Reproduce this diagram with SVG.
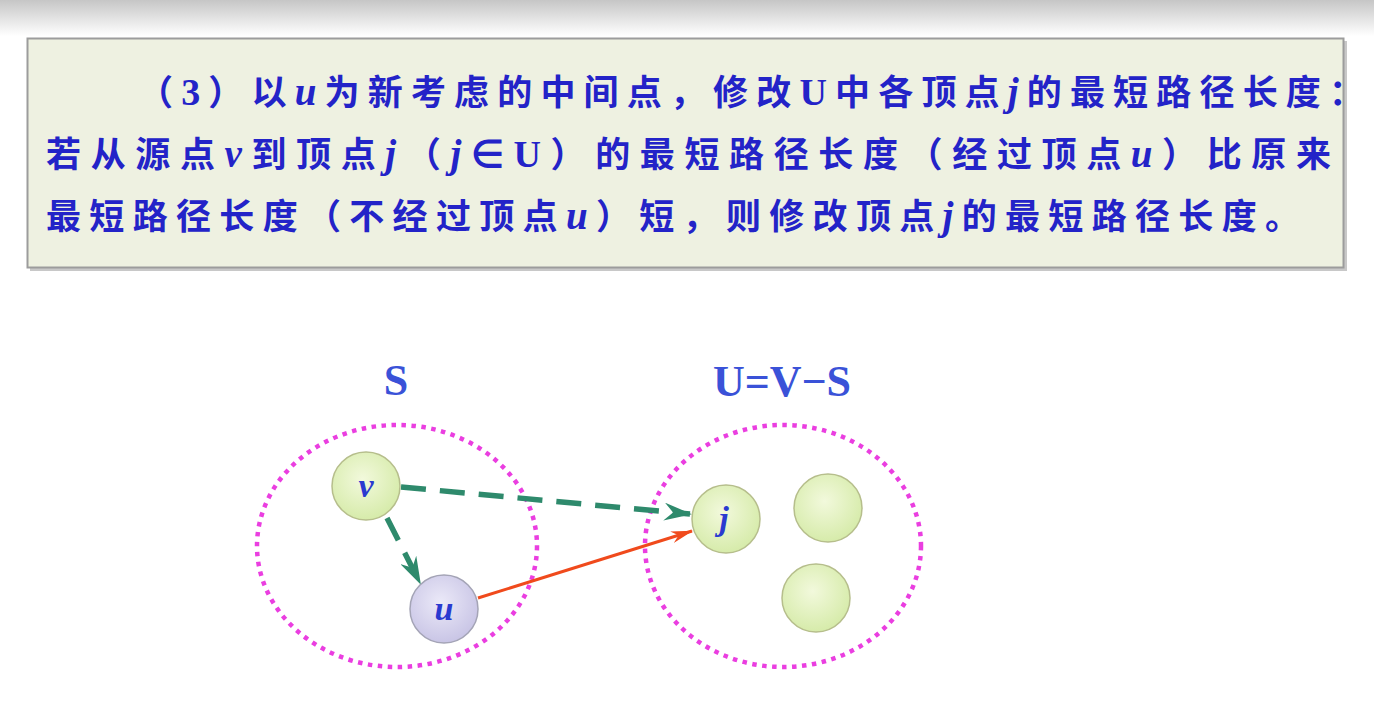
<svg xmlns="http://www.w3.org/2000/svg" width="1374" height="707" viewBox="0 0 1374 707">
<defs>
<linearGradient id="topband" x1="0" y1="0" x2="0" y2="1">
<stop offset="0" stop-color="#c6c6c6"/>
<stop offset="1" stop-color="#ffffff"/>
</linearGradient>
<radialGradient id="gGreen" cx="0.45" cy="0.4" r="0.65">
<stop offset="0" stop-color="#f2f9dc"/>
<stop offset="1" stop-color="#d4eaa6"/>
</radialGradient>
<radialGradient id="gPurple" cx="0.45" cy="0.4" r="0.65">
<stop offset="0" stop-color="#ebe9f8"/>
<stop offset="1" stop-color="#c6c2e4"/>
</radialGradient>
<marker id="arrGreen" markerUnits="userSpaceOnUse" viewBox="0 0 28 18" markerWidth="28" markerHeight="18" refX="26" refY="9" orient="auto">
<path d="M0,0 L28,9 L0,18 L9,9 z" fill="#2e8a6c"/>
</marker>
<marker id="arrRed" markerUnits="userSpaceOnUse" viewBox="0 0 22 12" markerWidth="22" markerHeight="12" refX="21" refY="6" orient="auto">
<path d="M0,0 L22,6 L0,12 L7,6 z" fill="#f04a1c"/>
</marker>
</defs>
<style>
.cn{font-family:"Noto Sans CJK SC","Noto Sans",sans-serif;font-weight:bold;font-size:35px;fill:#2323c8}
.lt{font-family:"Liberation Serif","Noto Serif",serif;font-weight:bold;font-size:38px}
.it{font-family:"Liberation Serif",serif;font-style:italic;font-weight:bold;font-size:39px}
.set{fill:none;stroke:#ea3ee0;stroke-width:4.5;stroke-dasharray:4.5 5.5}
.title{font-family:"Liberation Serif",serif;font-weight:bold;font-size:44px;fill:#3a52d8;text-anchor:middle}
.nodeG{fill:url(#gGreen);stroke:#b6be8c;stroke-width:1.5}
.nodeP{fill:url(#gPurple);stroke:#a4a4b6;stroke-width:1.5}
.nl{font-family:"Liberation Serif",serif;font-style:italic;font-weight:bold;font-size:34px;fill:#2a3ad0;text-anchor:middle}
.dash{fill:none;stroke:#2e8a6c;stroke-width:5.5;stroke-dasharray:25 14}
.solid{fill:none;stroke:#f04a1c;stroke-width:3}
</style>
<rect x="0" y="0" width="1374" height="707" fill="#ffffff"/>
<rect x="0" y="0" width="1374" height="36" fill="url(#topband)"/>
<g id="textbox">
<rect x="30" y="41" width="1317" height="230" fill="#c8c8c8"/>
<rect x="27.5" y="38.5" width="1316" height="229" fill="#eef1e1" stroke="#9c9c9c" stroke-width="2"/>
<text class="cn" x="138" y="105" textLength="1226" lengthAdjust="spacing">（<tspan class="lt">3</tspan>）以<tspan class="it">u</tspan>为新考虑的中间点，修改<tspan class="lt">U</tspan>中各顶点<tspan class="it">j</tspan>的最短路径长度：</text>
<text class="cn" x="46" y="167" textLength="1285" lengthAdjust="spacing">若从源点<tspan class="it">v</tspan>到顶点<tspan class="it">j</tspan>（<tspan class="it">j</tspan><tspan class="lt">∈U</tspan>）的最短路径长度（经过顶点<tspan class="it">u</tspan>）比原来</text>
<text class="cn" x="46" y="229" textLength="1254" lengthAdjust="spacing">最短路径长度（不经过顶点<tspan class="it">u</tspan>）短，则修改顶点<tspan class="it">j</tspan>的最短路径长度。</text>
</g>
<g id="setS">
<ellipse class="set" cx="397" cy="546" rx="140" ry="121"/>
<text class="title" x="396" y="395">S</text>
</g>
<g id="setU">
<ellipse class="set" cx="783" cy="546" rx="138" ry="121"/>
<text class="title" x="782" y="396">U=V−S</text>
</g>
<g id="connectors">
<line class="dash" x1="401" y1="487" x2="690" y2="514" marker-end="url(#arrGreen)"/>
<line class="dash" x1="387" y1="518" x2="420" y2="583" marker-end="url(#arrGreen)"/>
<line class="solid" x1="478" y1="598" x2="692" y2="531" marker-end="url(#arrRed)"/>
</g>
<g id="node-v">
<circle class="nodeG" cx="366" cy="486" r="34"/>
<text class="nl" x="366" y="497">v</text>
</g>
<g id="node-u">
<circle class="nodeP" cx="444" cy="609" r="34"/>
<text class="nl" x="444" y="620">u</text>
</g>
<g id="node-j">
<circle class="nodeG" cx="726" cy="519" r="34"/>
<text class="nl" x="724" y="530">j</text>
</g>
<g id="node-a">
<circle class="nodeG" cx="828" cy="508" r="34"/>
</g>
<g id="node-b">
<circle class="nodeG" cx="816" cy="598" r="34"/>
</g>
</svg>
